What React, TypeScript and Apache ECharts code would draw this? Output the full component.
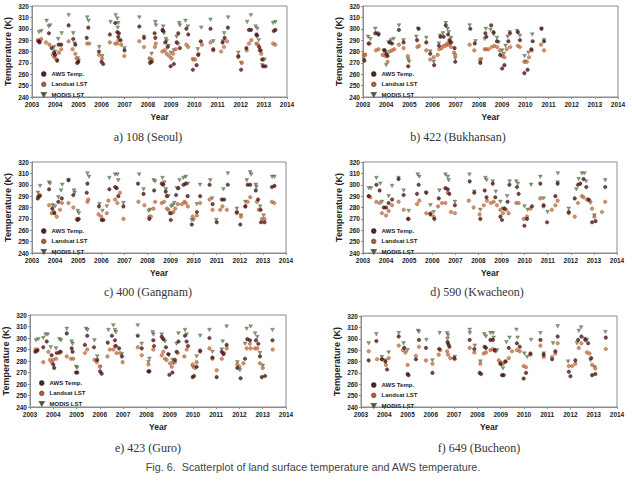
import React, { useEffect, useRef } from "react";
import * as echarts from "echarts";

type Pt = [number, number];

// ---------- data (year, temperature K) ----------
const seoulModis: Pt[] = [[2003.30,297],[2003.40,298],[2003.63,307],[2003.72,302],[2003.78,303],[2003.95,284],[2004.00,280],[2004.13,291],[2004.28,296],[2004.58,312],[2004.78,296],[2004.84,287],[2004.98,274],[2005.01,272],[2005.38,310],[2005.44,307],[2005.90,284],[2006.03,276],[2006.39,306],[2006.61,312],[2006.68,309],[2006.72,305],[2006.70,301],[2006.99,283],[2007.63,310],[2007.83,293],[2008.09,273],[2008.16,278],[2008.32,306],[2008.35,303],[2008.66,302],[2008.69,296],[2008.78,291],[2008.81,289],[2008.89,285],[2008.98,279],[2009.12,281],[2009.24,293],[2009.35,305],[2009.38,303],[2009.62,307],[2009.72,302],[2009.95,273],[2010.15,282],[2010.30,301],[2010.70,308],[2010.82,289],[2011.25,289],[2011.29,296],[2011.46,310],[2011.90,279],[2012.02,270],[2012.28,306],[2012.44,312],[2012.65,302],[2012.72,300],[2012.78,290],[2012.93,268],[2013.03,273],[2013.40,305],[2013.50,306]];
const seoulAws: Pt[] = [[2003.28,289],[2003.33,288],[2003.73,296],[2003.85,283],[2003.95,279],[2004.00,277],[2004.09,272],[2004.15,286],[2004.26,286],[2004.58,303],[2004.78,291],[2004.87,286],[2004.95,270],[2005.00,271],[2005.36,292],[2005.43,301],[2005.89,280],[2006.00,271],[2006.07,269],[2006.36,295],[2006.59,305],[2006.68,297],[2006.72,293],[2006.75,296],[2006.82,290],[2006.99,281],[2007.63,302],[2007.83,292],[2008.09,270],[2008.16,271],[2008.29,296],[2008.32,292],[2008.63,299],[2008.66,298],[2008.75,288],[2008.85,284],[2008.98,267],[2009.12,269],[2009.24,288],[2009.31,296],[2009.38,283],[2009.66,300],[2009.74,295],[2009.94,264],[2010.10,268],[2010.17,277],[2010.28,289],[2010.70,300],[2010.82,282],[2011.22,288],[2011.31,292],[2011.45,301],[2011.90,276],[2012.02,264],[2012.25,283],[2012.36,299],[2012.45,299],[2012.68,295],[2012.71,294],[2012.80,284],[2012.86,281],[2012.93,273],[2012.97,267],[2013.07,267],[2013.43,298],[2013.50,299]];
const seoulLandsat: Pt[] = [[2003.25,290],[2003.35,290],[2003.40,291],[2003.60,288],[2003.75,286],[2003.90,277],[2003.97,275],[2004.06,273],[2004.16,279],[2004.26,282],[2004.58,289],[2004.75,282],[2004.87,278],[2004.92,274],[2005.38,287],[2005.47,287],[2005.89,277],[2006.02,274],[2006.36,288],[2006.59,287],[2006.68,287],[2006.73,290],[2006.85,286],[2006.98,276],[2007.63,289],[2007.83,284],[2008.07,274],[2008.17,273],[2008.30,284],[2008.34,287],[2008.62,280],[2008.73,281],[2008.81,278],[2008.92,276],[2009.02,274],[2009.09,278],[2009.20,282],[2009.30,287],[2009.66,286],[2009.74,284],[2009.95,273],[2010.04,273],[2010.18,278],[2010.33,286],[2010.70,288],[2010.82,281],[2011.16,280],[2011.28,284],[2011.42,289],[2011.90,275],[2012.05,270],[2012.26,281],[2012.36,287],[2012.46,290],[2012.68,287],[2012.75,286],[2012.82,281],[2012.89,278],[2012.97,273],[2013.40,287],[2013.49,286]];

const bukModis: Pt[] = [[2003.03,273],[2003.07,277],[2003.22,293],[2003.32,291],[2003.53,300],[2003.60,296],[2003.67,295],[2003.90,281],[2003.97,280],[2004.00,268],[2004.10,288],[2004.20,290],[2004.32,291],[2004.55,303],[2004.75,290],[2004.95,273],[2004.99,271],[2005.30,293],[2005.37,300],[2005.73,292],[2005.90,280],[2006.05,271],[2006.27,287],[2006.33,294],[2006.45,296],[2006.57,305],[2006.65,300],[2006.70,297],[2006.80,292],[2006.98,274],[2007.60,303],[2007.85,289],[2008.06,271],[2008.10,273],[2008.25,291],[2008.30,300],[2008.50,299],[2008.64,295],[2008.78,292],[2008.85,288],[2009.00,281],[2009.07,278],[2009.15,285],[2009.24,293],[2009.33,297],[2009.65,298],[2009.77,294],[2009.97,276],[2010.01,271],[2010.14,279],[2010.30,295],[2010.70,300],[2010.81,290]];
const bukAws: Pt[] = [[2003.06,272],[2003.24,287],[2003.53,296],[2003.67,295],[2003.92,281],[2004.01,278],[2004.06,276],[2004.15,288],[2004.25,287],[2004.55,299],[2004.75,288],[2004.95,267],[2005.33,290],[2005.40,300],[2005.73,288],[2005.90,278],[2006.07,268],[2006.28,285],[2006.34,293],[2006.48,293],[2006.57,303],[2006.67,295],[2006.73,290],[2006.80,288],[2006.95,283],[2006.98,271],[2007.63,300],[2007.82,287],[2008.06,270],[2008.28,296],[2008.32,293],[2008.53,303],[2008.63,297],[2008.78,289],[2008.92,277],[2009.00,265],[2009.10,268],[2009.27,289],[2009.34,296],[2009.68,297],[2009.77,290],[2009.96,261],[2010.10,264],[2010.26,282],[2010.32,289],[2010.70,300],[2010.81,289]];
const bukLandsat: Pt[] = [[2003.03,277],[2003.10,277],[2003.29,287],[2003.56,281],[2003.67,282],[2003.85,277],[2003.97,276],[2004.06,271],[2004.15,280],[2004.25,281],[2004.35,282],[2004.55,286],[2004.75,283],[2004.93,276],[2005.35,284],[2005.42,285],[2005.73,281],[2005.90,273],[2006.05,275],[2006.22,277],[2006.29,282],[2006.40,283],[2006.48,285],[2006.57,285],[2006.63,287],[2006.70,286],[2006.74,288],[2006.80,284],[2006.93,279],[2006.98,277],[2007.60,286],[2007.80,281],[2008.06,273],[2008.25,282],[2008.32,282],[2008.42,282],[2008.56,284],[2008.66,285],[2008.78,284],[2008.90,281],[2009.00,276],[2009.10,275],[2009.20,282],[2009.35,284],[2009.68,285],[2009.77,284],[2009.96,271],[2010.07,271],[2010.16,275],[2010.28,281],[2010.68,286],[2010.81,281]];

const gangModis: Pt[] = [[2003.26,293],[2003.35,299],[2003.74,302],[2003.78,301],[2003.90,282],[2004.00,281],[2004.14,289],[2004.26,295],[2004.31,300],[2004.58,304],[2004.82,295],[2004.85,293],[2004.98,277],[2005.03,275],[2005.40,310],[2005.47,307],[2005.92,283],[2006.05,277],[2006.24,281],[2006.35,306],[2006.60,309],[2006.70,309],[2006.74,304],[2006.96,284],[2007.64,309],[2007.83,296],[2008.05,277],[2008.12,278],[2008.27,304],[2008.33,303],[2008.65,306],[2008.73,302],[2008.80,296],[2008.91,290],[2009.03,281],[2009.10,282],[2009.16,284],[2009.27,297],[2009.39,304],[2009.56,306],[2009.66,307],[2009.75,301],[2009.92,269],[2010.00,269],[2010.14,283],[2010.28,300],[2010.72,304],[2010.80,288],[2010.98,269],[2011.29,296],[2011.48,310],[2011.87,279],[2012.05,273],[2012.24,285],[2012.30,304],[2012.45,311],[2012.49,309],[2012.69,300],[2012.72,298],[2012.88,281],[2013.03,273],[2013.40,307],[2013.50,307]];
const gangAws: Pt[] = [[2003.25,288],[2003.33,290],[2003.74,296],[2003.88,279],[2003.97,275],[2004.14,285],[2004.29,288],[2004.58,304],[2004.79,291],[2004.97,269],[2005.02,270],[2005.37,293],[2005.40,301],[2005.90,281],[2006.02,269],[2006.09,269],[2006.35,296],[2006.60,298],[2006.67,297],[2006.74,290],[2006.96,281],[2007.59,301],[2007.83,292],[2008.08,270],[2008.29,295],[2008.62,301],[2008.69,300],[2008.79,294],[2008.84,290],[2008.98,275],[2009.01,269],[2009.24,291],[2009.34,297],[2009.56,300],[2009.66,301],[2009.74,290],[2009.92,265],[2010.14,276],[2010.28,290],[2010.69,300],[2010.82,283],[2011.00,267],[2011.22,287],[2011.32,287],[2011.48,300],[2011.87,276],[2012.02,265],[2012.24,281],[2012.34,300],[2012.45,300],[2012.69,295],[2012.79,287],[2012.90,278],[2012.92,267],[2013.07,267],[2013.39,298],[2013.50,299]];
const gangLandsat: Pt[] = [[2003.27,290],[2003.35,291],[2003.74,282],[2003.85,275],[2003.95,276],[2004.07,272],[2004.21,278],[2004.30,284],[2004.58,284],[2004.79,280],[2004.94,270],[2005.40,285],[2005.44,287],[2005.88,274],[2006.00,272],[2006.24,275],[2006.31,286],[2006.60,287],[2006.70,284],[2006.81,293],[2006.96,270],[2007.61,285],[2007.87,282],[2008.08,272],[2008.15,272],[2008.26,279],[2008.33,285],[2008.62,284],[2008.72,285],[2008.84,279],[2008.91,278],[2009.05,275],[2009.12,276],[2009.20,279],[2009.31,283],[2009.49,283],[2009.60,285],[2009.66,284],[2009.75,281],[2009.96,272],[2010.14,273],[2010.28,284],[2010.69,287],[2010.82,278],[2011.15,278],[2011.25,281],[2011.44,278],[2011.87,275],[2012.05,272],[2012.24,281],[2012.34,285],[2012.45,289],[2012.74,285],[2012.82,278],[2012.96,270],[2013.07,270],[2013.39,285],[2013.49,284]];

const kwaModis: Pt[] = [[2003.25,297],[2003.35,297],[2003.58,306],[2003.75,301],[2003.82,285],[2004.11,290],[2004.26,299],[2004.54,306],[2004.76,295],[2004.98,277],[2005.37,309],[2005.44,307],[2005.73,293],[2005.92,282],[2006.06,276],[2006.31,295],[2006.57,309],[2006.67,307],[2006.71,304],[2006.98,285],[2007.61,309],[2007.82,294],[2008.08,278],[2008.30,306],[2008.35,304],[2008.62,303],[2008.75,294],[2008.95,285],[2009.06,279],[2009.24,290],[2009.35,303],[2009.64,303],[2009.71,301],[2009.99,281],[2010.13,278],[2010.28,300],[2010.68,307],[2010.82,288],[2010.99,276],[2011.43,302],[2011.44,310],[2011.91,279],[2012.24,296],[2012.34,305],[2012.48,310],[2012.59,310],[2012.66,303],[2012.85,284],[2013.02,273],[2013.49,304]];
const kwaAws: Pt[] = [[2003.25,290],[2003.58,300],[2003.72,295],[2003.90,280],[2004.00,280],[2004.11,284],[2004.26,287],[2004.54,305],[2004.76,291],[2004.95,270],[2005.34,292],[2005.41,300],[2005.74,293],[2005.92,274],[2006.09,270],[2006.28,288],[2006.57,297],[2006.67,296],[2006.74,292],[2006.98,282],[2007.62,303],[2007.82,293],[2008.08,270],[2008.27,295],[2008.35,289],[2008.62,301],[2008.73,289],[2008.95,272],[2009.02,269],[2009.13,279],[2009.26,285],[2009.34,300],[2009.67,298],[2009.74,292],[2009.99,264],[2010.10,270],[2010.32,281],[2010.68,301],[2010.82,282],[2010.97,267],[2011.33,290],[2011.43,301],[2011.91,276],[2012.17,288],[2012.31,300],[2012.41,301],[2012.55,305],[2012.67,298],[2012.77,287],[2012.92,267],[2013.07,268],[2013.49,298]];
const kwaLandsat: Pt[] = [[2003.25,290],[2003.32,289],[2003.58,285],[2003.72,284],[2003.82,275],[2004.00,273],[2004.11,277],[2004.26,282],[2004.54,285],[2004.76,278],[2004.98,270],[2005.34,283],[2005.44,286],[2005.74,275],[2005.92,275],[2006.06,272],[2006.25,281],[2006.42,284],[2006.57,284],[2006.67,293],[2006.81,276],[2006.98,275],[2007.58,286],[2007.79,280],[2008.05,274],[2008.23,282],[2008.37,286],[2008.54,284],[2008.66,285],[2008.80,282],[2008.95,278],[2009.06,275],[2009.20,278],[2009.31,275],[2009.64,284],[2009.74,284],[2009.96,270],[2010.10,272],[2010.25,279],[2010.68,288],[2010.82,281],[2011.18,278],[2011.33,282],[2011.43,286],[2011.91,275],[2012.17,272],[2012.31,284],[2012.48,290],[2012.55,289],[2012.70,287],[2012.81,286],[2012.92,279],[2013.02,272],[2013.35,276],[2013.49,285]];

const guroModis: Pt[] = [[2003.26,298],[2003.36,299],[2003.57,300],[2003.67,303],[2003.76,303],[2003.89,292],[2004.12,291],[2004.26,299],[2004.33,298],[2004.58,308],[2004.79,297],[2004.83,295],[2004.98,275],[2005.03,274],[2005.41,308],[2005.47,307],[2005.77,298],[2005.89,284],[2006.01,275],[2006.37,307],[2006.58,311],[2006.65,307],[2006.69,305],[2006.95,286],[2007.63,311],[2007.80,295],[2008.09,279],[2008.13,282],[2008.27,305],[2008.30,303],[2008.66,303],[2008.80,297],[2008.97,285],[2009.12,281],[2009.16,278],[2009.30,295],[2009.38,304],[2009.66,307],[2009.73,303],[2009.99,275],[2010.16,284],[2010.31,302],[2010.71,307],[2010.84,288],[2011.24,290],[2011.28,297],[2011.45,310],[2011.91,279],[2012.02,272],[2012.24,295],[2012.31,308],[2012.48,310],[2012.67,304],[2012.77,301],[2012.88,287],[2013.00,276],[2013.42,307]];
const guroAws: Pt[] = [[2003.23,288],[2003.31,289],[2003.57,292],[2003.72,297],[2003.93,285],[2004.00,277],[2004.04,274],[2004.15,287],[2004.29,288],[2004.58,304],[2004.79,291],[2004.83,288],[2004.98,270],[2005.03,270],[2005.36,294],[2005.46,302],[2005.75,292],[2005.89,281],[2006.01,271],[2006.08,269],[2006.34,296],[2006.52,302],[2006.65,298],[2006.69,293],[2006.83,291],[2006.95,284],[2007.63,302],[2007.80,291],[2008.09,271],[2008.13,271],[2008.30,298],[2008.33,293],[2008.66,301],[2008.73,299],[2008.84,292],[2008.94,286],[2008.99,268],[2009.12,270],[2009.23,281],[2009.30,288],[2009.38,297],[2009.66,302],[2009.73,297],[2009.79,293],[2009.99,266],[2010.05,267],[2010.16,275],[2010.31,289],[2010.71,300],[2010.84,283],[2011.02,266],[2011.24,288],[2011.31,286],[2011.45,294],[2011.91,274],[2012.05,265],[2012.24,282],[2012.34,299],[2012.45,298],[2012.71,298],[2012.81,295],[2012.88,284],[2012.96,266],[2013.10,267],[2013.42,298]];
const guroLandsat: Pt[] = [[2003.23,290],[2003.33,290],[2003.57,279],[2003.79,288],[2003.86,281],[2003.93,279],[2004.00,281],[2004.12,282],[2004.26,287],[2004.33,288],[2004.58,284],[2004.76,282],[2004.86,282],[2005.36,287],[2005.46,290],[2005.77,281],[2005.87,279],[2006.01,275],[2006.33,284],[2006.43,290],[2006.58,290],[2006.65,293],[2006.72,287],[2006.87,287],[2006.98,279],[2007.63,292],[2007.80,285],[2008.09,277],[2008.30,290],[2008.66,285],[2008.73,288],[2008.80,282],[2008.87,281],[2009.02,278],[2009.09,275],[2009.23,279],[2009.35,287],[2009.63,284],[2009.73,290],[2009.99,277],[2010.09,274],[2010.16,279],[2010.31,288],[2010.71,291],[2010.84,282],[2011.02,272],[2011.24,282],[2011.34,287],[2011.45,291],[2011.91,277],[2012.00,275],[2012.17,278],[2012.31,291],[2012.45,295],[2012.48,291],[2012.67,291],[2012.77,291],[2012.88,278],[2013.00,274],[2013.43,290]];

const buchModis: Pt[] = [[2003.33,296],[2003.66,304],[2003.90,284],[2004.05,281],[2004.19,288],[2004.62,305],[2004.83,296],[2005.00,290],[2005.45,307],[2005.49,306],[2005.81,299],[2006.07,281],[2006.38,305],[2006.70,305],[2006.74,303],[2006.72,300],[2007.03,284],[2007.67,308],[2007.68,305],[2007.89,294],[2008.13,280],[2008.30,304],[2008.37,302],[2008.56,305],[2008.67,305],[2008.70,301],[2008.85,290],[2009.03,277],[2009.10,274],[2009.25,297],[2009.38,301],[2009.68,308],[2009.73,301],[2010.02,287],[2010.14,284],[2010.31,299],[2010.71,305],[2010.85,287],[2011.25,296],[2011.45,311],[2011.90,280],[2012.28,296],[2012.36,307],[2012.46,310],[2012.61,300],[2012.71,299],[2012.86,281],[2013.03,275],[2013.50,306]];
const buchAws: Pt[] = [[2003.33,281],[2003.66,298],[2003.90,282],[2004.05,280],[2004.12,273],[2004.62,302],[2004.86,292],[2005.00,269],[2005.04,268],[2005.36,282],[2005.49,299],[2005.79,292],[2006.07,270],[2006.36,291],[2006.72,297],[2006.76,295],[2006.80,293],[2007.01,283],[2007.67,299],[2007.87,291],[2008.10,270],[2008.16,269],[2008.31,293],[2008.37,292],[2008.56,299],[2008.67,299],[2008.74,290],[2008.99,278],[2009.06,268],[2009.13,268],[2009.21,280],[2009.35,292],[2009.70,296],[2009.82,293],[2009.99,265],[2010.09,270],[2010.28,287],[2010.71,299],[2010.85,286],[2011.21,282],[2011.35,289],[2011.45,302],[2011.93,271],[2012.00,267],[2012.21,281],[2012.33,299],[2012.47,302],[2012.64,299],[2012.76,296],[2012.89,283],[2012.93,268],[2013.07,269],[2013.52,301]];
const buchLandsat: Pt[] = [[2003.33,289],[2003.69,282],[2003.90,282],[2004.07,277],[2004.19,283],[2004.62,294],[2004.80,290],[2004.91,288],[2005.00,277],[2005.36,285],[2005.49,293],[2005.79,281],[2006.07,278],[2006.34,286],[2006.41,290],[2006.70,289],[2006.74,286],[2006.84,283],[2007.03,282],[2007.67,292],[2007.87,288],[2008.13,278],[2008.27,287],[2008.37,288],[2008.56,290],[2008.67,291],[2008.77,289],[2008.92,281],[2009.00,279],[2009.10,278],[2009.20,280],[2009.35,283],[2009.49,289],[2009.70,290],[2009.82,289],[2009.99,276],[2010.09,275],[2010.28,286],[2010.71,294],[2010.85,284],[2011.21,284],[2011.35,287],[2011.45,296],[2011.93,276],[2012.07,276],[2012.21,278],[2012.36,292],[2012.47,296],[2012.71,288],[2012.82,287],[2012.93,277],[2013.07,274],[2013.52,291]];

const seriesNames = ["AWS Temp.", "Landsat LST", "MODIS LST"];
const panelCaptions = ["a) 108 (Seoul)", "b) 422 (Bukhansan)", "c) 400 (Gangnam)", "d) 590 (Kwacheon)", "e) 423 (Guro)", "f) 649 (Bucheon)"];
const panelData: Pt[][][] = [
  [seoulAws, seoulLandsat, seoulModis],
  [bukAws, bukLandsat, bukModis],
  [gangAws, gangLandsat, gangModis],
  [kwaAws, kwaLandsat, kwaModis],
  [guroAws, guroLandsat, guroModis],
  [buchAws, buchLandsat, buchModis],
];
const figureCaption = "Fig. 6.  Scatterplot of land surface temperature and AWS temperature.";
const yearMin = 2003, yearMax = 2014, tempMin = 240, tempMax = 320;

// ---------- layout / style ----------
const layout = [
  { grid: { left: 32, top: 6, width: 255, height: 91 }, legend: { left: 41, top: 71 }, cap: { x: 148, y: 137 } },
  { grid: { left: 363, top: 6, width: 255, height: 91 }, legend: { left: 371, top: 71 }, cap: { x: 458, y: 137 } },
  { grid: { left: 32, top: 162, width: 254, height: 91 }, legend: { left: 41, top: 228 }, cap: { x: 148, y: 292 } },
  { grid: { left: 363, top: 162, width: 254, height: 91 }, legend: { left: 371, top: 228 }, cap: { x: 477, y: 292 } },
  { grid: { left: 30, top: 315, width: 256, height: 92 }, legend: { left: 39, top: 380 }, cap: { x: 148, y: 448 } },
  { grid: { left: 361, top: 316, width: 256, height: 91 }, legend: { left: 371, top: 382 }, cap: { x: 479, y: 448 } },
];
const sans = "'Liberation Sans', Arial, sans-serif";
const serif = "'Liberation Serif', 'Times New Roman', serif";
const frame = "#8c8c8c";
const styles = [
  { symbol: "circle", size: 3.6, color: "#531518", border: "#220606" },
  { symbol: "circle", size: 3.6, color: "#cc7642", border: "#7e3e1a" },
  { symbol: "path://M0 0L10 0L5 9Z", size: [3.8, 3.4], color: "#6f8256", border: "#3a4528" },
];

export default function App() {
  const ref = useRef<HTMLDivElement>(null);
  useEffect(() => {
    if (!ref.current) return;
    const chart = echarts.init(ref.current, undefined, { renderer: "svg" });
    const grids: any[] = [], xAxes: any[] = [], yAxes: any[] = [], legends: any[] = [], series: any[] = [], graphics: any[] = [];
    layout.forEach((L, i) => {
      grids.push({ ...L.grid, show: true, borderColor: frame, borderWidth: 1, backgroundColor: "#fff" });
      xAxes.push({
        gridIndex: i, type: "value", min: yearMin, max: yearMax, interval: 1,
        name: "Year", nameLocation: "middle", nameGap: 15,
        nameTextStyle: { fontFamily: sans, fontWeight: "bold", fontSize: 8.5, color: "#222" },
        axisLine: { show: true, lineStyle: { color: frame, width: 1 } },
        axisTick: { show: true, length: 2, lineStyle: { color: frame } },
        axisLabel: { fontFamily: sans, fontWeight: "bold", fontSize: 6.5, color: "#222", margin: 4, formatter: (v: number) => String(v) },
        splitLine: { show: false },
      });
      yAxes.push({
        gridIndex: i, type: "value", min: tempMin, max: tempMax, interval: 10,
        name: "Temperature (K)", nameLocation: "middle", nameGap: 20,
        nameTextStyle: { fontFamily: sans, fontWeight: "bold", fontSize: 9, color: "#222" },
        axisLine: { show: true, lineStyle: { color: frame, width: 1 } },
        axisTick: { show: true, length: 2, lineStyle: { color: frame } },
        axisLabel: { fontFamily: sans, fontWeight: "bold", fontSize: 6.5, color: "#222", margin: 3 },
        splitLine: { show: false },
      });
      legends.push({
        left: L.legend.left, top: L.legend.top, orient: "vertical", padding: 0,
        itemWidth: 3.5, itemHeight: 3.5, itemGap: 4.3, selectedMode: false,
        data: seriesNames,
        textStyle: { fontFamily: sans, fontWeight: "bold", fontSize: 6, color: "#222", lineHeight: 4, padding: [0, 0, 0, 1] },
      });
      const order = [2, 1, 0];
      order.forEach((k) => {
        const st = styles[k];
        series.push({
          type: "scatter", name: seriesNames[k], xAxisIndex: i, yAxisIndex: i,
          data: panelData[i][k], symbol: st.symbol, symbolSize: st.size,
          itemStyle: { color: st.color, borderColor: st.border, borderWidth: 0.4 },
          emphasis: { disabled: true }, z: 3 - k,
        });
      });
      graphics.push({
        type: "text", x: L.cap.x, y: L.cap.y,
        style: { text: panelCaptions[i], fontFamily: serif, fontSize: 12, fill: "#333", align: "center", verticalAlign: "middle" },
      });
    });
    graphics.push({
      type: "text", x: 313, y: 467,
      style: { text: figureCaption, fontFamily: sans, fontSize: 10.8, fill: "#444", align: "center", verticalAlign: "middle" },
    });
    chart.setOption({
      animation: false,
      backgroundColor: "#fff",
      grid: grids, xAxis: xAxes, yAxis: yAxes, legend: legends, series, graphic: graphics,
    });
    return () => chart.dispose();
  }, []);
  return <div ref={ref} style={{ position: "absolute", left: 0, top: 0, width: 632, height: 495 }} />;
}
